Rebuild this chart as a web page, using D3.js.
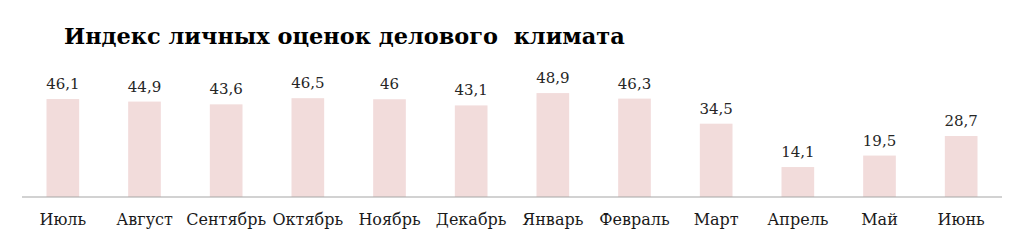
<!DOCTYPE html>
<html><head><meta charset="utf-8">
<script src="https://cdn.jsdelivr.net/npm/d3@7"></script>
<style>html,body{margin:0;padding:0;background:#fff;}svg{display:block;}</style>
</head><body>
<svg id="chart" width="1024" height="244"></svg>
<script>
const title = "Индекс личных оценок делового  климата";
const categories = ["Июль","Август","Сентябрь","Октябрь","Ноябрь","Декабрь","Январь","Февраль","Март","Апрель","Май","Июнь"];
const values = [46.1,44.9,43.6,46.5,46,43.1,48.9,46.3,34.5,14.1,19.5,28.7];
const valueLabels = ["46,1","44,9","43,6","46,5","46","43,1","48,9","46,3","34,5","14,1","19,5","28,7"];

const svg = d3.select("#chart");
const W = 1024, H = 244;
svg.append("rect").attr("width",W).attr("height",H).attr("fill","#fff");

const x = d3.scaleBand().domain(categories).range([22,1002]).paddingInner(0.6).paddingOuter(0.3);
const y = d3.scaleLinear().domain([0,60]).range([197,69.5]);

const t = svg.append("text").attr("x",64).attr("y",44)
  .attr("font-family","'DejaVu Serif', serif").attr("font-weight","bold")
  .attr("font-size",22).attr("fill","#000").style("white-space","pre")
  .text(title);
const len = t.node().getComputedTextLength();
t.attr("font-size", 22*561/len);

svg.selectAll("rect.bar").data(values).join("rect").attr("class","bar")
  .attr("x",(d,i)=>x(categories[i])).attr("width",x.bandwidth())
  .attr("y",d=>y(d)).attr("height",d=>y(0)-y(d)).attr("fill","#f2dcdb");

svg.selectAll("text.val").data(values).join("text").attr("class","val")
  .attr("x",(d,i)=>x(categories[i])+x.bandwidth()/2).attr("y",d=>y(d)-10)
  .attr("text-anchor","middle").attr("font-family","'DejaVu Serif', serif")
  .attr("font-size",15).attr("fill","#262626").text((d,i)=>valueLabels[i]);

const axis = d3.axisBottom(x).tickSize(0).tickPadding(0);
const g = svg.append("g").attr("transform","translate(0,197)").call(axis);
g.select(".domain").attr("stroke","#a6a6a6").attr("stroke-width",1.2).attr("d","M22,0H1002");
g.selectAll(".tick text").attr("y",28).attr("dy",null)
  .attr("font-family","'DejaVu Serif', serif").attr("font-size",16).attr("fill","#1a1a1a");
</script>
</body></html>
